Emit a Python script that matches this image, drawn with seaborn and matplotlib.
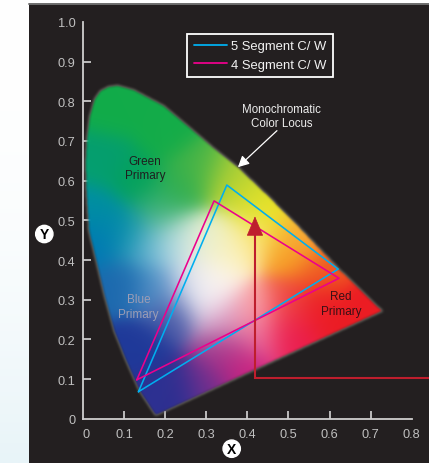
#!/usr/bin/env python3
"""
CIE chromaticity chart with 4 and 5 segment colour wheel gamuts
"""

import numpy as np
import pandas as pd
import matplotlib
matplotlib.use("Agg")
import matplotlib.pyplot as plt
from matplotlib.colors import to_rgb
from matplotlib.path import Path
from matplotlib.transforms import ScaledTranslation
import seaborn as sns

# Data
locus_x = [0.175, 0.135, 0.103, 0.074, 0.050, 0.030, 0.012, 0.005, 0.004, 0.007, 0.014, 0.026, 0.040, 0.060, 0.083,
           0.122, 0.195, 0.255, 0.316, 0.377, 0.450, 0.523, 0.620, 0.728]
locus_y = [0.007, 0.070, 0.145, 0.220, 0.310, 0.397, 0.473, 0.587, 0.650, 0.705, 0.762, 0.806, 0.827, 0.838, 0.841,
           0.830, 0.790, 0.738, 0.684, 0.634, 0.562, 0.486, 0.380, 0.271]

seg5_x = [0.135, 0.350, 0.621, 0.135]
seg5_y = [0.068, 0.589, 0.377, 0.068]
seg4_x = [0.131, 0.319, 0.623, 0.131]
seg4_y = [0.098, 0.549, 0.354, 0.098]

arrow_x = [0.842, 0.4185, 0.4185]
arrow_y = [0.1034, 0.1034, 0.47]
arrow_tip = (0.4185, 0.510)

x_ticks = [0, 0.1, 0.2, 0.3, 0.4, 0.5, 0.6, 0.7, 0.8]
x_tick_labels = ['0', '0.1', '0.2', '0.3', '0.4', '0.5', '0.6', '0.7', '0.8']
y_ticks = [0, 0.1, 0.2, 0.3, 0.4, 0.5, 0.6, 0.7, 0.8, 0.9, 1.0]
y_tick_labels = ['0', '0.1', '0.2', '0.3', '0.4', '0.5', '0.6', '0.7', '0.8', '0.9', '1.0']

# colour anchors for the gamut fill
anchor_x = [0.08, 0.20, 0.13, 0.05, 0.28, 0.35, 0.40, 0.45,
            0.03, 0.04, 0.10, 0.155, 0.21, 0.26, 0.32, 0.187, 0.236,
            0.097, 0.139, 0.18, 0.22, 0.26, 0.30, 0.34, 0.38, 0.22, 0.30, 0.17,
            0.414, 0.36, 0.496, 0.577, 0.577, 0.496, 0.414, 0.496, 0.414, 0.70, 0.52, 0.34, 0.32]
anchor_y = [0.78, 0.72, 0.60, 0.65, 0.63, 0.60, 0.55, 0.51,
            0.52, 0.453, 0.47, 0.435, 0.44, 0.45, 0.45, 0.52, 0.58,
            0.344, 0.176, 0.33, 0.26, 0.344, 0.30, 0.175, 0.13, 0.075, 0.09, 0.05,
            0.46, 0.42, 0.42, 0.377, 0.276, 0.294, 0.276, 0.226, 0.218, 0.27, 0.46, 0.25, 0.36]
anchor_colors = ['#12ae4a', '#14ae4a', '#04a45c', '#05a070', '#48b648', '#b0d236', '#d6de2e', '#ece81f',
                 '#0090a4', '#0078b8', '#0490a8', '#58b0d0', '#b4dce8', '#e4efe0', '#eef2c8', '#40b478', '#30b050',
                 '#1c6ab0', '#1f3a9a', '#5090c8', '#4858a8', '#e0e0f0', '#ffffff', '#a04090', '#d02080', '#2e3192', '#70308f', '#2e3192',
                 '#ffe980', '#fff4c0', '#f9a020', '#f15a24', '#ee1c25', '#f04a40', '#ffb0b0', '#ed1c50', '#f06fa0', '#ed1c24', '#fbb040', '#d8a0c8', '#fff8f0']

BG = '#231f20'
LIGHT = '#cfcfcf'

sns.set_style("dark")
plt.rcParams['font.family'] = ['Liberation Sans', 'DejaVu Sans']

W, H = 429, 464
fig = plt.figure(figsize=(W / 100, H / 100), dpi=100, facecolor='white')

# pale page gradient behind the panel
page = fig.add_axes([0, 0, 1, 1], zorder=0)
page.axis('off')
shade = np.linspace(0, 1, 256)[:, None, None] ** 2.2
page.imshow(1 - shade * (1 - np.array(to_rgb('#e8f4f8'))), aspect='auto', origin='upper', extent=[0, 1, 0, 1])

# panel spans px 28.7..429 and 5..464
ax = fig.add_axes([28.7 / W, 0, 1 - 28.7 / W, 1 - 5 / H], zorder=1)
ax.set_facecolor(BG)

xlim = (-0.1321, 0.842)
ylim = (-0.1117, 1.0453)

# gamut fill: gaussian blend of the anchors, soft edge from a blurred mask
grid_x = np.linspace(xlim[0], xlim[1], 800)
grid_y = np.linspace(ylim[0], ylim[1], 928)
gx, gy = np.meshgrid(grid_x, grid_y)
rgb_anchor = np.array([to_rgb(c) for c in anchor_colors])
d2 = (gx[..., None] - np.array(anchor_x)) ** 2 + (gy[..., None] - np.array(anchor_y)) ** 2
d2 = d2 - d2.min(axis=2, keepdims=True) * 0.9
weights = np.exp(-d2 / (2 * 0.042 ** 2)) + 1e-12
rgb = (weights[..., None] * rgb_anchor).sum(axis=2) / weights.sum(axis=2, keepdims=True)

outline = Path(np.column_stack([locus_x + locus_x[:1], locus_y + locus_y[:1]]))
mask = outline.contains_points(np.column_stack([gx.ravel(), gy.ravel()])).reshape(gx.shape).astype(float)
kernel = np.ones(7) / 7
for _ in range(2):
    mask = np.apply_along_axis(lambda r: np.convolve(r, kernel, mode='same'), 0, mask)
    mask = np.apply_along_axis(lambda r: np.convolve(r, kernel, mode='same'), 1, mask)
# grey fringe along the locus
fringe = np.clip((mask - 0.35) / 0.5, 0, 1)[..., None]
rgb = rgb * fringe + np.array(to_rgb('#8c8c80')) * (1 - fringe)
ax.imshow(np.dstack([rgb, mask]), origin='lower', aspect='auto',
          extent=[xlim[0], xlim[1], ylim[0], ylim[1]], zorder=1)

# gamut triangles
gamut = pd.DataFrame({
    'x': seg5_x + seg4_x,
    'y': seg5_y + seg4_y,
    'series': ['5 Segment C/ W'] * 4 + ['4 Segment C/ W'] * 4,
})
sns.lineplot(data=gamut, x='x', y='y', hue='series', sort=False, estimator=None,
             palette={'5 Segment C/ W': '#00aeef', '4 Segment C/ W': '#ec008c'},
             linewidth=1.15, ax=ax, zorder=4)

# red projector path
ax.plot(arrow_x, arrow_y, color='#be1e2d', lw=1.5, zorder=5, solid_joinstyle='miter')
ax.annotate('', xy=arrow_tip, xytext=(arrow_tip[0], 0.46), zorder=6,
            arrowprops=dict(arrowstyle='-|>,head_length=1.3,head_width=0.55', color='#be1e2d', lw=0.5,
                            shrinkA=0, shrinkB=0, mutation_scale=10))

ax.set_xlim(xlim)
ax.set_ylim(ylim)

# axes
for side in ['top', 'right']:
    ax.spines[side].set_visible(False)
for side in ['left', 'bottom']:
    ax.spines[side].set_position(('data', 0))
    ax.spines[side].set_color(LIGHT)
    ax.spines[side].set_linewidth(1.3)
    ax.spines[side].set_zorder(7)
ax.spines['left'].set_bounds(0, 1.0)
ax.spines['bottom'].set_bounds(0, 0.8)

ax.set_xticks(x_ticks)
ax.set_xticklabels(x_tick_labels)
ax.set_yticks(y_ticks)
ax.set_yticklabels(y_tick_labels)
ax.tick_params(axis='both', direction='in', length=5.8, width=1.1, color='#e6e6e6',
               labelcolor='#c0c0c0', labelsize=9.2, bottom=True, left=True)
ax.tick_params(axis='x', pad=6.5)
ax.tick_params(axis='y', pad=5.5)
ax.grid(False)
for tick_set in (ax.xaxis.get_major_ticks(), ax.yaxis.get_major_ticks()):
    tick_set[0].tick1line.set_visible(False)
    tick_set[-1].tick1line.set_visible(False)
# the x origin label sits a little right of the axis
zero_label = ax.xaxis.get_major_ticks()[0].label1
zero_label.set_transform(zero_label.get_transform() + ScaledTranslation(3 / 100, 0, fig.dpi_scale_trans))

# circled axis names
circle = dict(boxstyle='circle,pad=0.12', fc='white', ec='white')
ax.set_xlabel('X', fontsize=10, fontweight='bold', color='black', bbox=circle, va='center', ha='center')
ax.set_ylabel('Y', fontsize=10, fontweight='bold', color='black', bbox=circle, rotation=0, va='center', ha='center')
ax.xaxis.set_label_coords((231.7 - 28.7) / 400.3, (464 - 449.7) / 459, transform=ax.transAxes)
ax.yaxis.set_label_coords((44.3 - 28.7) / 400.3, (464 - 235) / 459, transform=ax.transAxes)

# legend
handles, labels = ax.get_legend_handles_labels()
leg = ax.legend(handles, labels, loc='upper left', frameon=True, fontsize=9.4, labelcolor='#f2f2f2',
                bbox_to_anchor=((187 - 28.7) / 400.3, (464 - 34.5) / 459), borderaxespad=0,
                handlelength=2.55, handletextpad=0.3, borderpad=0.5, labelspacing=0.5, fancybox=False)
leg.get_frame().set_facecolor(BG)
leg.get_frame().set_edgecolor('white')
leg.get_frame().set_linewidth(1.3)
leg.get_frame().set_alpha(1)
leg.set_zorder(8)
for line in leg.get_lines():
    line.set_linewidth(1.3)

# annotations
ax.text(0.4825, 0.762, 'Monochromatic\nColor Locus', color='#ececec', fontsize=8.3, ha='center', va='center',
        linespacing=1.2, zorder=8)
ax.annotate('', xy=(0.377, 0.634), xytext=(0.472, 0.726), zorder=8,
            arrowprops=dict(arrowstyle='-|>,head_length=0.55,head_width=0.28', color='white', lw=0.9,
                            shrinkA=0, shrinkB=0, mutation_scale=12))
ax.text(0.151, 0.632, 'Green\nPrimary', color='#1f1f1f', fontsize=8.5, ha='center', va='center',
        linespacing=1.3, zorder=8)
ax.text(0.135, 0.282, 'Blue\nPrimary', color='#9c9db5', fontsize=8.5, ha='center', va='center',
        linespacing=1.3, zorder=8)
ax.text(0.628, 0.290, 'Red\nPrimary', color='#3a1015', fontsize=8.5, ha='center', va='center',
        linespacing=1.3, zorder=8)

# thin grey top edge of the panel
ax.axhline(ylim[1], color='#6d6d6d', lw=1.4, zorder=9, clip_on=False)

plt.savefig('out.png', dpi=100, facecolor='white')
plt.close()
